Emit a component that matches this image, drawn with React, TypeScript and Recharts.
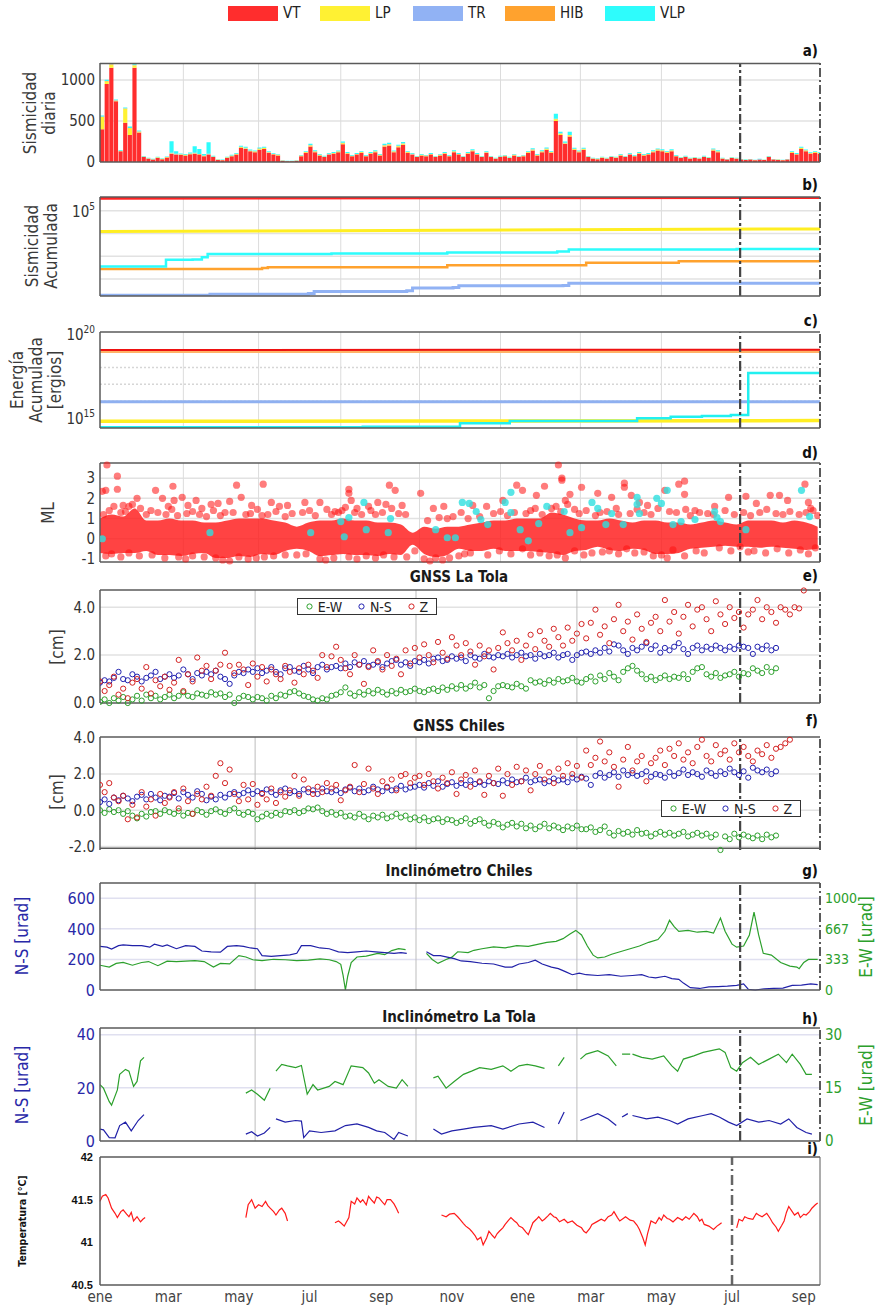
import React from 'react';
import {
  ComposedChart,
  XAxis,
  YAxis,
  Bar,
  Line,
  Area,
  Scatter,
  ReferenceLine,
  CartesianGrid,
} from 'recharts';

const W = 876;
const PL = 100;
const PR = 820;
const XMAX = 622;
const EVENT_DAY = 553;
const M = 10; // vertical chart margin, keeps edge tick labels inside the svg
const FONT = "'Liberation Sans Narrow', 'DejaVu Sans Condensed', 'Liberation Sans', Arial, sans-serif";

// ---- a) sismicidad diaria, 4-day bins ----
const VT = [
  400, 950, 1150, 740, 130, 480, 330, 1150, 360, 60,
  40, 30, 50, 35, 55, 100, 90, 85, 80, 95,
  100, 90, 70, 90, 60, 25, 20, 50, 70, 90,
  170, 160, 130, 120, 150, 160, 110, 90, 80, 15,
  10, 10, 15, 70, 110, 190, 120, 80, 60, 90,
  100, 120, 215, 100, 70, 90, 110, 70, 100, 120,
  80, 190, 200, 120, 180, 210, 110, 90, 60, 80,
  70, 90, 60, 80, 100, 70, 120, 90, 60, 100,
  130, 90, 60, 110, 60, 40, 60, 70, 50, 80,
  60, 70, 110, 140, 80, 120, 150, 110, 500, 330,
  220, 310, 150, 120, 150, 60, 40, 35, 50, 40,
  60, 50, 80, 60, 90, 70, 100, 80, 90, 120,
  140, 130, 110, 130, 70, 50, 60, 40, 50, 40,
  60, 50, 140, 120, 40, 30, 50, 40, 30, 25,
  30, 20, 30, 25, 60, 30, 25, 20, 30, 110,
  90, 160, 130, 100, 110, 100,
];
const LP = [
  150, 30, 40, 8, 6, 170, 80, 30, 10, 5,
  4, 3, 5, 4, 5, 8, 6, 6, 5, 7,
  8, 6, 5, 6, 5, 3, 2, 4, 5, 7,
  10, 9, 8, 7, 9, 10, 7, 6, 5, 2,
  1, 1, 2, 5, 8, 12, 8, 6, 5, 6,
  7, 8, 14, 7, 5, 6, 8, 5, 7, 8,
  6, 12, 14, 8, 12, 14, 8, 6, 4, 6,
  5, 6, 4, 6, 7, 5, 8, 6, 4, 7,
  9, 6, 4, 7, 4, 3, 4, 5, 4, 6,
  4, 5, 8, 10, 6, 8, 10, 8, 20, 15,
  10, 15, 9, 8, 9, 4, 3, 3, 4, 3,
  4, 4, 6, 4, 6, 5, 7, 6, 6, 8,
  9, 9, 8, 9, 5, 4, 4, 3, 4, 3,
  4, 4, 10, 8, 3, 2, 4, 3, 2, 2,
  2, 2, 2, 2, 4, 2, 2, 2, 2, 8,
  6, 10, 9, 7, 8, 7,
];
const TR = [
  1, 2, 1, 1, 0, 1, 1, 2, 1, 0,
  0, 0, 1, 0, 0, 1, 1, 0, 1, 0,
  1, 0, 1, 1, 0, 0, 0, 1, 0, 1,
  1, 1, 0, 1, 1, 0, 1, 0, 1, 0,
  0, 0, 0, 1, 0, 1, 1, 0, 0, 1,
  1, 0, 1, 1, 0, 0, 1, 0, 1, 1,
  0, 1, 1, 0, 1, 1, 0, 1, 0, 0,
  1, 0, 0, 1, 1, 0, 1, 0, 0, 1,
  1, 0, 0, 1, 0, 0, 1, 0, 0, 1,
  0, 0, 1, 1, 0, 1, 1, 0, 2, 1,
  1, 1, 1, 0, 1, 0, 0, 0, 1, 0,
  0, 1, 0, 0, 1, 0, 1, 0, 0, 1,
  1, 1, 0, 1, 0, 0, 1, 0, 0, 0,
  1, 0, 1, 1, 0, 0, 0, 1, 0, 0,
  0, 0, 1, 0, 0, 0, 1, 0, 0, 1,
  0, 1, 1, 0, 1, 0,
];
const HIB = [
  4, 5, 6, 4, 2, 4, 3, 5, 3, 2,
  2, 2, 3, 2, 2, 3, 3, 3, 2, 3,
  3, 3, 2, 3, 2, 1, 1, 2, 3, 3,
  4, 4, 3, 3, 4, 4, 3, 3, 2, 1,
  1, 1, 1, 2, 3, 4, 3, 3, 2, 3,
  3, 3, 4, 3, 2, 3, 3, 2, 3, 3,
  3, 4, 4, 3, 4, 4, 3, 3, 2, 3,
  2, 3, 2, 3, 3, 2, 3, 3, 2, 3,
  4, 3, 2, 3, 2, 2, 2, 3, 2, 3,
  2, 3, 3, 4, 3, 3, 4, 3, 5, 4,
  4, 4, 3, 3, 3, 2, 2, 2, 2, 2,
  2, 2, 3, 2, 3, 2, 3, 3, 3, 3,
  4, 3, 3, 3, 2, 2, 2, 2, 2, 2,
  2, 2, 3, 3, 2, 1, 2, 2, 1, 1,
  1, 1, 1, 1, 2, 1, 1, 1, 1, 3,
  3, 4, 3, 3, 3, 3,
];
const VLP = [
  12, 15, 10, 10, 8, 10, 20, 8, 10, 6,
  6, 5, 6, 5, 6, 140, 30, 10, 10, 12,
  80, 60, 20, 140, 10, 6, 6, 8, 10, 10,
  12, 12, 10, 10, 12, 12, 10, 8, 8, 4,
  4, 4, 4, 8, 10, 14, 10, 8, 8, 10,
  10, 10, 15, 10, 8, 10, 10, 8, 10, 10,
  8, 14, 15, 10, 12, 14, 10, 10, 8, 8,
  8, 10, 8, 8, 10, 8, 10, 10, 8, 10,
  12, 10, 8, 10, 8, 6, 8, 8, 8, 8,
  8, 8, 10, 12, 8, 10, 12, 10, 60, 20,
  15, 40, 12, 10, 12, 8, 6, 6, 8, 6,
  8, 6, 8, 8, 10, 8, 10, 8, 10, 10,
  12, 12, 10, 12, 8, 6, 8, 6, 6, 6,
  8, 6, 10, 10, 6, 5, 6, 6, 5, 5,
  5, 4, 5, 4, 8, 5, 4, 4, 5, 10,
  10, 12, 10, 10, 10, 10,
];

// ---- b) sismicidad acumulada (log) [day, count] ----
const CUM_VT = [[0, 355000], [300, 365000], [622, 380000]];
const CUM_LP = [[0, 12000], [200, 13000], [400, 14500], [622, 15800]];
const CUM_VLP = [[0, 350], [55, 350], [57, 700], [80, 720], [88, 900], [93, 1250], [200, 1320], [300, 1450], [395, 1600], [405, 1950], [550, 2050], [622, 2150]];
const CUM_HIB = [[0, 270], [140, 300], [145, 330], [300, 400], [420, 520], [500, 600], [622, 690]];
const CUM_TR = [[0, 19], [90, 19], [95, 21], [180, 23], [185, 28], [265, 30], [270, 40], [305, 42], [310, 50], [400, 52], [405, 65], [622, 76]];

// ---- c) energia acumulada (log exponents) ----
const EN_VT = [[0, 19.05], [622, 19.06]];
const EN_HIB = [[0, 18.97], [622, 18.97]];
const EN_TR = [[0, 15.97], [622, 15.97]];
const EN_LP = [[0, 14.8], [300, 14.82], [622, 14.84]];
const EN_VLP = [[0, 14.44], [227, 14.48], [311, 14.68], [354, 14.82], [464, 14.98], [493, 15.07], [520, 15.12], [545, 15.17], [560, 17.68], [622, 17.7]];

// ---- d) ML ----
const ML_LOW = [
  -0.7, -0.75, -0.7, -0.7, -0.6, -0.8, -0.8, -0.85, -0.75, -0.7,
  -0.95, -0.95, -0.85, -0.9, -0.75, -0.8, -0.6, -0.5, -0.6, -0.85,
  -0.8, -0.75, -0.8, -0.8, -0.85, -0.75, -0.8, -0.3, -0.75, -0.9,
  -0.8, -0.5, -0.6, -0.6, -0.5, -0.6, -0.6, -0.6, -0.65, -0.7,
  -0.8, -0.6, -0.55, -0.4, -0.55, -0.6, -0.5, -0.55, -0.75, -0.75,
  -0.7, -0.5, -0.45, -0.4, -0.35, -0.4, -0.4, -0.45, -0.4, -0.45,
  -0.5, -0.55, -0.5,
];
const ML_HIGH = [
  1.0, 1.2, 1.1, 1.5, 0.9, 0.9, 1.0, 0.9, 0.9, 0.8,
  0.8, 0.9, 1.0, 1.0, 1.0, 0.9, 0.8, 0.6, 0.8, 0.9,
  0.9, 1.0, 0.9, 0.9, 0.8, 0.8, 0.7, 0.3, 0.6, 0.5,
  0.6, 0.6, 0.7, 0.8, 0.9, 0.9, 1.0, 1.0, 1.0, 1.3,
  1.2, 1.0, 0.9, 0.9, 1.0, 0.9, 0.8, 0.9, 0.9, 0.8,
  0.8, 0.7, 0.8, 0.9, 0.8, 0.7, 0.9, 0.9, 0.9, 0.8,
  0.9, 0.8, 0.6,
];
const ML_RED = [
  [6, 3.65], [5, 2.4], [2, 2.35], [15, 3.1], [15, 2.45], [20, 1.65], [25, 1.6], [32, 2.0], [48, 2.4], [54, 2.0],
  [59, 1.6], [63, 2.6], [64, 1.9], [71, 2.05], [76, 1.65], [83, 1.9], [88, 1.5], [96, 1.7], [102, 1.75], [112, 1.85],
  [118, 2.65], [122, 2.05], [131, 1.65], [141, 2.7], [148, 1.8], [155, 1.6], [162, 1.65], [177, 1.8], [190, 1.8], [203, 1.35],
  [209, 1.4], [215, 2.45], [215, 2.25], [217, 1.9], [222, 1.5], [232, 1.6], [240, 1.8], [247, 1.7], [250, 2.65], [255, 2.4],
  [261, 1.65], [277, 2.25], [288, 1.5], [297, 1.6], [305, 1.1], [322, 1.65], [334, 1.6], [348, 1.9], [360, 2.65], [365, 2.4],
  [377, 2.15], [384, 2.6], [396, 3.65], [399, 3.0], [399, 2.9], [402, 1.9], [406, 2.2], [416, 2.55], [430, 2.25], [442, 2.05],
  [453, 2.75], [453, 2.55], [459, 2.15], [466, 1.8], [473, 1.65], [488, 2.4], [500, 2.7], [505, 2.85], [505, 2.2], [514, 1.4],
  [531, 1.6], [543, 2.05], [558, 2.1], [567, 1.75], [579, 2.15], [587, 2.15], [594, 1.9], [609, 2.7], [612, 1.8], [616, 1.4],
  [10, -0.75], [25, -0.7], [45, -0.8], [68, -0.9], [80, -0.85], [100, -0.95], [112, -1.1], [120, -0.9], [135, -0.95], [150, -0.85],
  [170, -0.8], [190, -1.0], [195, -1.05], [215, -0.9], [230, -0.85], [245, -0.8], [265, -0.9], [280, -1.0], [290, -0.95], [296, -1.05],
  [310, -0.85], [320, -0.7], [345, -0.6], [365, -0.5], [380, -0.7], [395, -0.8], [410, -0.6], [425, -0.7], [440, -0.6], [455, -0.5],
  [470, -0.65], [485, -0.8], [495, -0.55], [515, -0.6], [535, -0.45], [553, -0.4], [565, -0.6], [585, -0.5], [605, -0.55], [618, -0.45],
  [8, 1.4], [18, 1.3], [35, 1.5], [40, 1.2], [57, 1.2], [75, 1.25], [92, 1.1], [108, 1.3], [126, 1.2], [140, 1.15],
  [160, 1.1], [175, 1.3], [200, 1.2], [220, 1.3], [238, 1.2], [258, 1.25], [300, 1.0], [318, 1.0], [340, 1.25], [358, 1.3],
  [372, 1.4], [390, 1.5], [410, 1.45], [432, 1.3], [448, 1.2], [470, 1.3], [492, 1.35], [510, 1.15], [525, 1.25], [548, 1.2],
  [570, 1.3], [590, 1.2], [610, 1.3],
  [3, 1.2], [12, 1.6], [22, 1.35], [28, 1.7], [44, 1.4], [50, 1.3], [62, 1.45], [67, 1.15], [80, 1.35], [86, 1.2],
  [98, 1.4], [104, 1.15], [115, 1.3], [130, 1.25], [136, 1.45], [145, 1.2], [152, 1.35], [166, 1.25], [181, 1.4], [186, 1.15],
  [196, 1.45], [206, 1.3], [212, 1.55], [226, 1.2], [234, 1.4], [244, 1.3], [252, 1.5], [264, 1.2], [283, 0.9], [293, 1.05],
  [312, 1.3], [328, 1.1], [346, 1.35], [352, 1.15], [368, 1.25], [376, 1.5], [382, 1.2], [394, 1.6], [398, 1.35], [404, 1.7],
  [414, 1.25], [420, 1.4], [428, 1.15], [438, 1.35], [446, 1.5], [458, 1.25], [464, 1.45], [476, 1.2], [482, 1.5], [498, 1.3],
  [506, 1.45], [518, 1.3], [530, 1.2], [540, 1.4], [556, 1.3], [562, 1.15], [576, 1.45], [584, 1.25], [596, 1.35], [604, 1.2],
  [614, 1.5], [620, 1.15],
  [5, -0.85], [18, -0.9], [34, -0.85], [56, -0.95], [74, -1.0], [90, -0.9], [106, -1.05], [128, -1.0], [142, -0.9], [160, -0.8],
  [178, -0.75], [202, -0.95], [222, -1.0], [238, -0.95], [254, -0.9], [272, -0.6], [285, -1.1], [302, -0.95], [315, -0.75], [335, -0.8],
  [355, -0.75], [372, -0.8], [388, -0.85], [402, -0.95], [418, -0.8], [434, -0.65], [448, -0.75], [462, -0.7], [478, -0.85], [490, -0.95],
  [505, -0.85], [522, -0.7], [545, -0.6], [560, -0.65], [575, -0.7], [595, -0.7], [612, -0.75],
];
const ML_CYAN = [
  [2, 0.0], [95, 0.3], [182, 0.3], [208, 0.85], [211, 0.1], [215, 1.05], [228, 1.8], [230, 0.45], [249, 0.3], [251, 1.0],
  [290, 0.45], [300, 0.05], [307, 0.05], [313, 1.8], [319, 1.75], [325, 1.35], [329, 0.95], [335, 0.7], [350, 1.8], [355, 2.3],
  [355, 1.3], [363, 0.45], [370, -0.1], [379, 0.75], [386, 1.6], [401, 1.35], [406, 0.3], [416, 0.55], [425, 1.8], [430, 1.5],
  [437, 0.7], [442, 1.25], [452, 0.7], [464, 2.05], [464, 1.7], [466, 1.25], [481, 2.0], [485, 1.75], [490, 2.4], [495, 0.7],
  [502, 0.85], [514, 0.95], [531, 1.35], [533, 1.05], [536, 0.85], [558, 0.45], [606, 2.4], [613, 1.1],
];

// ---- e) GNSS La Tola, one point every 4 days from day 0 ----
const LT_NS = [
  0.85, 0.95, 0.9, 1.05, 1.3, 1.0, 0.95, 1.2, 1.1, 0.9, 1.05, 1.15, 1.3, 1.0, 1.1,
  1.2, 1.05, 1.15, 1.4, 1.2, 1.0, 1.25, 1.15, 1.3, 1.2, 1.35, 1.1, 1.0, 0.8, 1.15, 1.3, 1.25, 1.4,
  1.3, 1.45, 1.25, 1.35, 1.5, 1.3, 1.2, 1.45, 1.5, 1.35, 1.3, 1.55, 1.4, 1.25, 1.5, 1.6, 1.4, 1.5,
  1.55, 1.45, 1.65, 1.5, 1.7, 1.6, 1.75, 1.55, 1.6, 1.7, 1.5, 1.65, 1.75, 1.8, 1.6, 1.7, 1.55, 1.75,
  1.7, 1.8, 1.65, 1.85, 1.9, 1.75, 1.8, 1.95, 1.85, 1.9, 1.75, 2.0, 1.9, 1.85, 2.05, 1.95, 1.9, 2.0,
  1.95, 2.05, 1.9, 2.0, 2.1, 1.95, 2.0, 1.85, 2.05, 1.95, 2.0, 2.1, 1.9, 2.0, 2.05, 1.8, 2.0, 2.1,
  2.15, 2.05, 2.2, 2.1, 2.3, 2.15, 2.45, 2.4, 2.2, 2.05, 2.3, 2.2, 2.35, 2.5, 2.25, 2.4, 2.1, 2.3,
  2.2, 2.35, 2.5, 2.25, 2.05, 2.3, 2.4, 2.2, 2.35, 2.25, 2.4, 2.3, 2.2, 2.35, 2.25, 2.4, 2.35, 2.3,
  2.05, 2.35, 2.25, 2.4, 2.2, 2.3,
];
const LT_EW = [
  0.05, 0.15, 0.0, 0.2, 0.1, 0.25, 0.0, 0.15, 0.3, 0.1, 0.35, 0.2, 0.3, 0.15, 0.25,
  0.35, 0.2, 0.3, 0.45, 0.3, 0.25, 0.4, 0.35, 0.3, 0.45, 0.35, 0.4, 0.25, 0.35, 0.0, 0.2, 0.3, 0.25,
  0.15, 0.25, 0.2, 0.1, 0.3, 0.2, 0.35, 0.3, 0.45, 0.5, 0.4, 0.3, 0.25, 0.15, 0.1, 0.2, 0.15, 0.3,
  0.35, 0.45, 0.65, 0.4, 0.3, 0.45, 0.35, 0.5, 0.4, 0.55, 0.45, 0.35, 0.5, 0.4, 0.55, 0.45, 0.5, 0.6,
  0.5, 0.45, 0.55, 0.6, 0.5, 0.65, 0.55, 0.7, 0.6, 0.75, 0.6, 0.7, 0.85, 0.65, 0.75, 0.2, 0.5, 0.7,
  0.75, 0.7, 0.65, 0.8, 0.7, 0.6, 0.95, 0.85, 0.9, 0.8, 0.95, 0.85, 1.0, 0.9, 0.95, 1.05, 0.9, 0.85,
  1.0, 1.1, 0.9, 1.15, 1.0, 1.25, 1.1, 0.95, 1.3, 1.45, 1.55, 1.35, 1.2, 1.0, 1.1, 0.95, 1.05, 1.15,
  1.0, 1.1, 1.05, 1.2, 1.0, 1.3, 1.45, 1.5, 1.2, 1.1, 1.25, 1.05, 1.15, 1.2, 1.3, 1.1, 1.25, 1.2,
  1.45, 1.35, 1.25, 1.5, 1.3, 1.45,
];
const LT_Z = [
  0.9, 0.5, 0.75, 1.1, 0.35, 0.6, 0.2, 0.85, 1.0, 0.6, 1.5, 0.4, 0.95, 0.7, 1.1,
  0.55, 0.85, 1.8, 0.5, 1.2, 0.9, 1.9, 1.35, 1.55, 1.0, 1.35, 1.6, 2.1, 1.55, 1.25, 1.6, 1.4, 0.75,
  1.65, 1.1, 1.5, 0.9, 1.4, 1.2, 1.0, 1.55, 1.3, 0.85, 1.45, 1.2, 1.6, 1.35, 1.05, 2.0, 1.5, 1.95,
  2.35, 1.8, 1.45, 1.2, 2.0, 1.6, 0.8, 1.5, 2.2, 1.75, 1.4, 2.0, 1.55, 1.85, 1.2, 2.2, 1.65, 2.3,
  1.9, 2.45, 2.0, 1.7, 2.55, 2.1, 1.85, 2.75, 2.4, 2.0, 2.5, 2.15, 1.6, 2.4, 1.95, 2.2, 1.4, 2.3,
  2.95, 2.5, 2.2, 2.6, 1.8, 2.4, 2.85, 2.25, 3.0, 2.6, 2.35, 3.1, 2.75, 2.4, 3.15, 2.6, 2.9, 3.3,
  2.7, 3.35, 3.9, 2.85, 3.2, 2.5, 3.5, 4.1, 3.0, 3.4, 2.65, 3.7, 3.1, 2.55, 3.35, 3.6, 3.0, 4.3,
  3.4, 3.8, 2.9, 3.6, 4.1, 3.2, 3.9, 4.0, 3.5, 3.0, 4.25, 3.7, 3.3, 4.0, 3.55, 3.8, 3.15, 3.7,
  3.9, 4.3, 3.5, 4.0, 3.8, 3.35, 4.0, 3.9, 3.7, 4.0, 3.95, 4.7,
];

// ---- f) GNSS Chiles ----
const CH_NS = [
  0.45, 0.6, 0.35, 0.7, 0.55, 0.8, 0.65, 0.5, 0.75, 0.85, 0.6, 0.9, 0.7, 0.55, 0.8,
  0.75, 0.95, 0.65, 1.0, 0.85, 0.7, 1.05, 0.9, 0.55, 0.75, 0.6, 0.85, 0.7, 0.9, 1.0, 0.85, 0.95, 1.1,
  0.9, 1.05, 0.95, 1.15, 1.0, 0.85, 1.1, 1.2, 0.95, 1.05, 0.9, 1.15, 1.0, 1.1, 0.9, 1.2, 1.05, 1.0,
  1.1, 0.95, 1.15, 1.25, 1.05, 1.2, 1.0, 1.1, 1.3, 1.15, 1.05, 1.25, 1.1, 1.2, 1.35, 1.15, 1.25, 1.3,
  1.4, 1.25, 1.5, 1.35, 1.6, 1.3, 1.45, 1.55, 1.35, 1.5, 1.4, 1.65, 1.45, 1.55, 1.4, 1.6, 1.5, 1.45,
  1.65, 1.5, 1.7, 1.55, 1.6, 1.8, 1.55, 1.65, 1.7, 1.5, 1.6, 1.75, 1.65, 1.7, 1.55, 1.8, 1.7, 1.85,
  1.75, 1.4, 1.9, 2.05, 1.8, 1.95, 2.1, 1.85, 2.2, 1.95, 2.05, 1.9, 2.0, 2.15, 1.85, 2.0, 1.95, 1.8,
  2.1, 1.9, 2.05, 2.25, 1.95, 2.1, 2.0, 1.85, 2.2, 2.05, 1.9, 2.15, 2.0, 2.3, 2.1, 1.95, 2.15, 1.8,
  2.35, 2.2, 2.1, 2.25, 2.0, 2.15,
];
const CH_EW = [
  0.0, -0.15, 0.05, -0.1, 0.0, -0.2, -0.05, -0.3, -0.45, -0.2, -0.35, -0.1, -0.05, -0.2, 0.0,
  -0.1, -0.2, -0.05, -0.3, -0.15, -0.2, 0.0, -0.1, -0.25, -0.05, 0.05, -0.1, -0.2, 0.0, 0.1, -0.15, -0.25, -0.1,
  -0.2, -0.5, -0.35, -0.2, -0.3, -0.15, -0.25, -0.05, -0.1, 0.0, -0.15, -0.05, 0.1, 0.05, 0.15, -0.05, -0.2, -0.1,
  -0.25, -0.15, -0.35, -0.3, -0.4, -0.2, -0.35, -0.5, -0.3, -0.4, -0.25, -0.45, -0.35, -0.2, -0.4, -0.3, -0.5, -0.4,
  -0.55, -0.4, -0.6, -0.5, -0.45, -0.65, -0.5, -0.55, -0.7, -0.6, -0.45, -0.75, -0.6, -0.5, -0.7, -0.85, -0.65, -0.75,
  -0.95, -0.8, -0.7, -0.9, -0.75, -1.0, -0.85, -1.05, -0.9, -0.75, -1.0, -0.85, -0.95, -1.1, -0.9, -1.0, -0.85, -1.05,
  -1.05, -0.95, -1.2, -1.1, -0.9, -1.25, -1.4, -1.15, -1.3, -1.2, -1.35, -1.1, -1.3, -1.25, -1.45, -1.3, -1.2, -1.35,
  -1.25, -1.4, -1.3, -1.2, -1.45, -1.35, -1.25, -1.4, -1.3, -1.5, -1.35, -2.2, -1.45, -1.6, -1.3, -1.5, -1.35, -1.45,
  -1.55, -1.4, -1.6, -1.35, -1.5, -1.4,
];
const CH_Z = [
  1.4, 1.0, 1.5, 0.7, 0.5, 0.8, -0.5, 0.3, -0.4, 1.0, 0.2, 0.6, -0.3, 0.9, 0.4,
  0.7, 1.0, 0.1, 1.2, 0.5, -0.2, 0.9, 0.6, 1.3, 0.8, 1.9, 2.6, 1.5, 2.25, 0.9, 0.5, 1.4, 0.6,
  1.45, 0.3, 0.9, 0.6, 1.2, 0.4, 1.0, 0.75, 1.1, 1.9, 0.8, 1.7, 1.2, 0.9, 1.3, 1.0, 1.5, 1.2,
  1.4, 0.55, 1.1, 1.3, 2.5, 1.0, 1.45, 2.3, 1.2, 0.9, 1.6, 1.3, 1.7, 1.1, 1.9, 2.0, 1.5, 1.8,
  1.9, 1.4, 2.0, 1.6, 1.2, 1.8, 1.5, 2.1, 0.9, 1.7, 1.95, 1.3, 2.2, 1.6, 0.85, 1.9, 1.5, 2.3,
  0.8, 2.0, 1.4, 2.4, 1.6, 2.2, 1.1, 2.0, 2.45, 1.7, 2.1, 1.5, 2.3, 1.9, 2.6, 2.0, 2.45, 1.8,
  3.3, 2.5, 2.9, 3.8, 2.7, 3.2, 2.4, 1.3, 2.8, 3.5, 2.2, 2.7, 3.0, 1.6, 2.6, 2.9, 3.3, 2.5,
  3.4, 3.0, 3.7, 2.8, 3.2, 2.6, 3.5, 3.9, 3.0, 2.7, 3.6, 3.1, 3.3, 2.8, 3.7, 3.2, 3.5, 3.0,
  2.7, 3.3, 3.1, 3.6, 2.9, 3.4, 3.5, 3.7, 3.9,
];

// ---- g) inclinometro Chiles [day, urad] ----
const INC_CH_NS = [
  [0, 285], [6, 280], [10, 268], [16, 290], [20, 295], [28, 290], [36, 290], [43, 280], [47, 300], [54, 285],
  [58, 295], [66, 270], [74, 290], [82, 285], [88, 255], [96, 250], [104, 248], [110, 285], [118, 290], [124, 285],
  [130, 275], [136, 270], [140, 225], [148, 220], [156, 225], [164, 230], [170, 240], [174, 290], [182, 290], [190, 275],
  [198, 270], [206, 250], [214, 245], [222, 250], [230, 255], [238, 250], [246, 245], [254, 240], [260, 245], [265, 240],
  [266, null],
  [282, 250], [288, 225], [294, 225], [300, 215], [306, 205], [312, 190], [320, 185], [330, 175], [340, 170], [350, 150],
  [356, 150], [362, 170], [370, 180], [376, 195], [382, 170], [390, 150], [396, 140], [402, 120], [408, 100], [414, 110],
  [420, 100], [430, 95], [440, 100], [450, 90], [460, 95], [468, 100], [474, 85], [480, 80], [488, 90], [494, 75],
  [500, 70], [504, 45], [510, 15], [518, 10], [526, 20], [534, 22], [542, 25], [550, 30], [556, 40], [560, 5],
  [566, 0], [574, 8], [582, 10], [590, 12], [598, 30], [606, 32], [614, 40], [620, 35],
];
const INC_CH_EW = [
  [0, 270], [8, 250], [14, 290], [20, 300], [28, 270], [36, 300], [42, 310], [50, 265], [58, 315], [66, 310],
  [74, 315], [82, 320], [90, 310], [98, 250], [104, 290], [112, 285], [120, 375], [126, 360], [132, 330], [140, 320],
  [150, 335], [160, 330], [170, 320], [180, 325], [190, 340], [198, 330], [204, 310], [208, 280], [210, 160], [212, 0],
  [214, 150], [217, 300], [222, 360], [230, 370], [240, 400], [246, 385], [252, 430], [258, 450], [264, 440],
  [266, null],
  [282, 400], [287, 333], [292, 290], [299, 333], [304, 358], [309, 417], [318, 408], [323, 433], [330, 450], [340, 470],
  [350, 460], [360, 483], [370, 475], [379, 500], [386, 520], [394, 530], [400, 560], [406, 610], [411, 650], [416, 600],
  [421, 480], [426, 380], [430, 350], [436, 360], [442, 390], [450, 420], [458, 450], [466, 480], [474, 520], [482, 550],
  [488, 640], [492, 760], [496, 690], [500, 640], [508, 650], [516, 630], [524, 640], [530, 620], [536, 785], [540, 640],
  [546, 500], [550, 467], [556, 480], [561, 600], [565, 850], [569, 600], [573, 400], [580, 380], [588, 300], [596, 260],
  [602, 250], [604, 233], [608, 300], [612, 333], [620, 333],
];

// ---- h) inclinometro La Tola ----
const INC_LT_NS = [
  [0, 4.5], [3, 4.2], [8, 1.3], [13, 1.2], [17, 5.8], [22, 7.1], [27, 3.8], [33, 7.7], [38, 9.9], [40, null],
  [126, 2.6], [131, 3.5], [136, 1.9], [142, 3.0], [147, 5.1], [149, null],
  [152, 8.3], [160, 7.1], [169, 7.7], [174, 7.5], [176, 1.3], [181, 3.8], [191, 3.2], [203, 3.8], [212, 5.8], [222, 6.4],
  [232, 5.1], [239, 3.8], [246, 3.2], [254, 0.6], [258, 3.2], [266, 1.9], [268, null],
  [288, 4.5], [295, 2.6], [304, 3.8], [314, 4.5], [323, 5.1], [338, 5.8], [348, 4.5], [362, 6.4], [374, 7.1], [384, 5.1], [388, null],
  [396, 6.4], [401, 10.9], [405, null],
  [415, 7.7], [430, 10.3], [439, 8.3], [446, 5.8], [448, null],
  [451, 9.0], [456, 10.3], [459, null],
  [460, 9.6], [472, 8.3], [482, 9.0], [492, 7.7], [499, 6.4], [508, 8.3], [521, 9.6], [528, 10.3], [535, 9.0], [543, 7.1],
  [550, 5.8], [559, 8.3], [569, 7.1], [578, 7.7], [588, 6.4], [595, 8.3], [602, 5.1], [610, 3.2], [615, 2.6],
];
const INC_LT_EW = [
  [0, 15.9], [3, 14.9], [8, 11.1], [10, 10.1], [15, 14.4], [17, 18.8], [22, 20.2], [25, 19.7], [29, 15.4], [32, 16.8],
  [35, 22.6], [38, 23.6], [40, null],
  [126, 13.5], [131, 14.4], [136, 13.2], [142, 11.5], [147, 14.9], [149, null],
  [152, 19.7], [157, 21.6], [162, 21.2], [169, 20.7], [174, 21.3], [179, 13.2], [184, 15.9], [188, 14.4], [198, 15.4], [203, 16.8],
  [210, 15.9], [217, 21.2], [227, 20.7], [232, 19.2], [237, 16.3], [241, 17.3], [249, 15.4], [256, 14.9], [261, 17.3], [266, 15.4],
  [268, null],
  [288, 17.8], [292, 18.3], [299, 14.9], [306, 16.8], [314, 18.8], [321, 19.7], [328, 20.7], [338, 20.2], [348, 21.2], [355, 19.7],
  [362, 21.2], [369, 21.6], [376, 21.2], [384, 20.5], [388, null],
  [396, 21.2], [401, 23.6], [405, null],
  [415, 23.1], [420, 24.5], [430, 25.5], [439, 24.0], [446, 21.2], [448, null],
  [451, 24.5], [458, 24.5], [459, null],
  [460, 24.5], [468, 23.6], [477, 23.1], [487, 24.0], [494, 21.2], [499, 19.7], [504, 23.1], [513, 24.0], [521, 25.0], [528, 25.5],
  [535, 26.0], [540, 25.0], [545, 20.7], [550, 19.7], [555, 22.1], [562, 23.6], [569, 21.6], [578, 23.1], [586, 24.5], [593, 22.1],
  [598, 24.5], [605, 21.6], [610, 18.8], [615, 18.8],
];

// ---- i) temperatura ----
const TEMP = [
  [0, 41.48], [2, 41.54], [5, 41.56], [7, 41.52], [10, 41.4], [13, 41.34], [15, 41.29], [18, 41.36], [20, 41.38], [23, 41.33],
  [25, 41.3], [27, 41.35], [29, 41.25], [32, 41.3], [35, 41.24], [37, 41.27], [39, 41.29], [40, null],
  [126, 41.29], [128, 41.44], [131, 41.5], [134, 41.4], [137, 41.44], [140, 41.42], [143, 41.48], [145, 41.43], [147, 41.4], [150, 41.36],
  [152, 41.32], [155, 41.38], [157, 41.4], [160, 41.34], [162, 41.25], [163, null],
  [203, 41.23], [206, 41.25], [208, 41.23], [211, 41.19], [215, 41.29], [217, 41.48], [220, 41.45], [222, 41.52], [225, 41.47], [227, 41.5],
  [230, 41.44], [232, 41.54], [235, 41.49], [237, 41.46], [239, 41.53], [241, 41.52], [244, 41.47], [246, 41.44], [248, 41.5], [251, 41.5],
  [254, 41.45], [256, 41.4], [258, 41.34], [259, null],
  [295, 41.32], [299, 41.3], [302, 41.33], [306, 41.34], [309, 41.3], [311, 41.27], [314, 41.22], [316, 41.19], [319, 41.16], [321, 41.13],
  [324, 41.08], [326, 41.03], [329, 41.06], [331, 40.97], [334, 41.05], [336, 41.13], [339, 41.08], [341, 41.05], [343, 41.1], [345, 41.13],
  [348, 41.17], [350, 41.21], [353, 41.26], [355, 41.29], [358, 41.25], [360, 41.23], [362, 41.19], [365, 41.17], [368, 41.12], [370, 41.09],
  [372, 41.16], [374, 41.23], [377, 41.27], [379, 41.3], [382, 41.25], [384, 41.27], [387, 41.31], [389, 41.34], [392, 41.3], [394, 41.29],
  [397, 41.24], [401, 41.27], [404, 41.23], [408, 41.25], [412, 41.2], [416, 41.17], [418, 41.13], [420, 41.11], [423, 41.16], [425, 41.21],
  [429, 41.24], [433, 41.27], [436, 41.25], [439, 41.3], [442, 41.32], [444, 41.36], [447, 41.29], [449, 41.25], [452, 41.28], [454, 41.3],
  [458, 41.26], [461, 41.25], [464, 41.2], [466, 41.15], [469, 41.05], [471, 40.97], [473, 41.1], [476, 41.25], [480, 41.22], [483, 41.29],
  [485, 41.26], [487, 41.32], [490, 41.28], [492, 41.27], [495, 41.24], [499, 41.29], [503, 41.26], [506, 41.3], [509, 41.27], [513, 41.34],
  [516, 41.3], [518, 41.25], [520, 41.27], [522, 41.21], [526, 41.19], [530, 41.15], [533, 41.19], [535, 41.21], [537, 41.23], [538, null],
  [550, 41.17], [552, 41.27], [555, 41.25], [557, 41.3], [560, 41.28], [564, 41.27], [567, 41.34], [569, 41.32], [572, 41.3], [576, 41.34],
  [579, 41.28], [581, 41.23], [584, 41.18], [586, 41.13], [589, 41.2], [591, 41.25], [593, 41.35], [595, 41.42], [598, 41.36], [600, 41.32],
  [603, 41.35], [605, 41.29], [608, 41.33], [610, 41.32], [613, 41.36], [615, 41.4], [618, 41.44], [620, 41.46],
];

const MONTH_TICKS = [0, 59, 120, 181, 243, 304, 365, 424, 485, 546, 608];
const MONTH_LABELS = ['ene', 'mar', 'may', 'jul', 'sep', 'nov', 'ene', 'mar', 'may', 'jul', 'sep'];
const GRID_TOP = [72, 137, 208, 276, 346, 415, 485];
const GRID_MID = [134, 273, 412];

const COLORS = { VT: '#ff2d2d', LP: '#fff133', TR: '#91b2f4', HIB: '#ffa22e', VLP: '#2efcfc' };

// tables
const barData = VT.map((v, i) => ({ d: i * 4 + 2, vt: v, lp: LP[i], tr: TR[i], hib: HIB[i], vlp: VLP[i] }));
const pairs = (arr: (number | null)[][]) => arr.map(([d, v]) => ({ d, v }));
const expPairs = (arr: number[][]) => arr.map(([d, e]) => ({ d, v: Math.pow(10, e) }));
const every4 = (arr: number[]) => arr.map((v, i) => ({ d: i * 4, v }));
const bandData = ML_LOW.map((lo, i) => ({ d: i * 10, band: [lo, ML_HIGH[i]] }));

const tickStyle = { fill: '#333', fontSize: 15, fontFamily: FONT };

const PowTick = ({ x, y, payload }: any) => {
  const e = Math.round(Math.log10(payload.value));
  return (
    <text x={x} y={y} textAnchor="end" dy={6} fill="#333" fontSize={15} fontFamily={FONT}>
      10<tspan dy={-7} fontSize={10}>{e}</tspan>
    </text>
  );
};

// grid drawn beneath the data
const hGrid = (vals: number[], color = '#e2e2e2', dash?: string) => (
  <CartesianGrid key="gh" yAxisId="l" vertical={false} horizontalValues={vals} stroke={color} strokeWidth={1.5} strokeDasharray={dash} />
);
const vGrid = (days: number[], color = '#dcdcdc') => (
  <CartesianGrid key="gv" yAxisId="l" horizontal={false} verticalValues={days} stroke={color} strokeWidth={1} />
);
const frame = (lo: number, hi: number, dashedRight = true) => [
  <ReferenceLine key="ft" yAxisId="l" y={hi} stroke="#5a5a5a" strokeWidth={1.5} ifOverflow="visible" />,
  <ReferenceLine key="fb" yAxisId="l" y={lo} stroke="#5a5a5a" strokeWidth={1.5} ifOverflow="visible" />,
  <ReferenceLine key="fl" yAxisId="l" x={0} stroke="#5a5a5a" strokeWidth={1.5} ifOverflow="visible" />,
  <ReferenceLine
    key="fr"
    yAxisId="l"
    x={XMAX}
    stroke="#5a5a5a"
    strokeWidth={dashedRight ? 2 : 1}
    strokeDasharray={dashedRight ? '9 3 2 3' : undefined}
    ifOverflow="visible"
  />,
];
const eventLine = (
  <ReferenceLine key="ev" yAxisId="l" x={EVENT_DAY} stroke="#444" strokeWidth={2.2} strokeDasharray="10 3 3 3" />
);

const ring = (color: string) => (p: any) => (
  <circle cx={p.cx} cy={p.cy} r={2.6} fill="none" stroke={color} strokeWidth={1} />
);
const blob = (color: string, op: number) => (p: any) => (
  <circle cx={p.cx} cy={p.cy} r={3.6} fill={color} fillOpacity={op} />
);

const Abs = ({ x, y, children, style }: any) => (
  <div style={{ position: 'absolute', left: x, top: y, whiteSpace: 'nowrap', fontFamily: FONT, ...style }}>{children}</div>
);

const VLabel = ({ x, y, lines, color = '#3a3a3a', size = 17, weight = 400 }: any) => (
  <div
    style={{
      position: 'absolute',
      left: x,
      top: y,
      transform: 'translate(-50%, -50%) rotate(-90deg)',
      textAlign: 'center',
      whiteSpace: 'nowrap',
      fontSize: size,
      lineHeight: `${size + 2}px`,
      color,
      fontFamily: FONT,
      fontWeight: weight,
    }}
  >
    {lines.map((l: string) => (
      <div key={l}>{l}</div>
    ))}
  </div>
);

const Letter = ({ y, t }: any) => (
  <Abs x={760} y={y} style={{ width: 58, textAlign: 'right', fontWeight: 700, fontSize: 15, color: '#111' }}>
    {t}
  </Abs>
);

const Title = ({ y, t }: any) => (
  <Abs x={259} y={y} style={{ width: 400, textAlign: 'center', fontWeight: 700, fontSize: 15, color: '#1a1a1a' }}>
    {t}
  </Abs>
);

const GnssLegend = ({ x, y }: any) => (
  <Abs
    x={x}
    y={y}
    style={{
      width: 140,
      height: 17,
      border: '1px solid #333',
      background: '#fff',
      fontSize: 14,
      color: '#222',
      display: 'flex',
      alignItems: 'center',
      justifyContent: 'space-around',
      boxSizing: 'border-box',
    }}
  >
    {[
      ['E-W', '#2ca02c'],
      ['N-S', '#2121b0'],
      ['Z', '#d42222'],
    ].map(([t, c]) => (
      <span key={t} style={{ display: 'flex', alignItems: 'center', gap: 5 }}>
        <svg width={7} height={7}>
          <circle cx={3.5} cy={3.5} r={2.6} fill="none" stroke={c} strokeWidth={1} />
        </svg>
        {t}
      </span>
    ))}
  </Abs>
);

// plot area from plotTop to plotBottom; the chart box extends M px above and below
const Panel = ({ plotTop, plotH, children, right = W - PR, bottomExtra = 0 }: any) => (
  <div style={{ position: 'absolute', left: 0, top: plotTop - M }}>
    {children({ width: W, height: plotH + 2 * M + bottomExtra, margin: { top: M, right, bottom: M, left: 0 } })}
  </div>
);

const xHidden = <XAxis type="number" dataKey="d" domain={[0, XMAX]} hide allowDataOverflow />;
const yCommon = { tickSize: 3, tickMargin: 2, axisLine: false, tickLine: false, interval: 0 as const };

export default function App() {
  const legendItems: [string, string, number][] = [
    ['VT', COLORS.VT, 228],
    ['LP', COLORS.LP, 320],
    ['TR', COLORS.TR, 413],
    ['HIB', COLORS.HIB, 505],
    ['VLP', COLORS.VLP, 605],
  ];
  const LOGB: [number, number] = [Math.pow(10, 1.25), Math.pow(10, 5.6)];
  const LOGC: [number, number] = [Math.pow(10, 14.4), Math.pow(10, 20.12)];

  return (
    <div style={{ position: 'absolute', left: 0, top: 0, width: W, height: 1306, background: '#fff', overflow: 'hidden' }}>
      {legendItems.map(([t, c, x]) => (
        <React.Fragment key={t}>
          <div style={{ position: 'absolute', left: x, top: 6, width: 50, height: 15, background: c }} />
          <Abs x={x + 55} y={4} style={{ fontSize: 15, color: '#222' }}>
            {t}
          </Abs>
        </React.Fragment>
      ))}

      {/* a) */}
      <Letter y={42} t="a)" />
      <VLabel x={40} y={113} lines={['Sismicidad', 'diaria']} />
      <Panel plotTop={63} plotH={99}>
        {(p: any) => (
          <ComposedChart {...p} data={barData} barCategoryGap={0} barGap={0}>
            {xHidden}
            <YAxis yAxisId="l" width={PL} domain={[0, 1200]} ticks={[0, 500, 1000]} tick={tickStyle} {...yCommon} />
            {hGrid([500, 1000])}
            {vGrid(GRID_TOP)}
            <Bar yAxisId="l" dataKey="vt" stackId="s" fill={COLORS.VT} barSize={4.7} isAnimationActive={false} />
            <Bar yAxisId="l" dataKey="lp" stackId="s" fill={COLORS.LP} barSize={4.7} isAnimationActive={false} />
            <Bar yAxisId="l" dataKey="tr" stackId="s" fill={COLORS.TR} barSize={4.7} isAnimationActive={false} />
            <Bar yAxisId="l" dataKey="hib" stackId="s" fill={COLORS.HIB} barSize={4.7} isAnimationActive={false} />
            <Bar yAxisId="l" dataKey="vlp" stackId="s" fill={COLORS.VLP} barSize={4.7} isAnimationActive={false} />
            {eventLine}
            {frame(0, 1200)}
          </ComposedChart>
        )}
      </Panel>

      {/* b) */}
      <Letter y={176} t="b)" />
      <VLabel x={42} y={246} lines={['Sismicidad', 'Acumulada']} />
      <Panel plotTop={197} plotH={99}>
        {(p: any) => (
          <ComposedChart {...p}>
            {xHidden}
            <YAxis yAxisId="l" width={PL} scale="log" domain={LOGB} allowDataOverflow ticks={[1e5]} tick={<PowTick />} {...yCommon} />
            {hGrid([100, 1000, 10000, 100000])}
            {vGrid(GRID_TOP)}
            <Line yAxisId="l" data={pairs(CUM_TR)} dataKey="v" type="stepAfter" stroke={COLORS.TR} strokeWidth={3} dot={false} isAnimationActive={false} />
            <Line yAxisId="l" data={pairs(CUM_HIB)} dataKey="v" type="stepAfter" stroke={COLORS.HIB} strokeWidth={2.5} dot={false} isAnimationActive={false} />
            <Line yAxisId="l" data={pairs(CUM_VLP)} dataKey="v" type="stepAfter" stroke={COLORS.VLP} strokeWidth={2.5} dot={false} isAnimationActive={false} />
            <Line yAxisId="l" data={pairs(CUM_LP)} dataKey="v" type="linear" stroke="#ffee22" strokeWidth={3} dot={false} isAnimationActive={false} />
            <Line yAxisId="l" data={pairs(CUM_VT)} dataKey="v" type="linear" stroke="#ff2222" strokeWidth={3} dot={false} isAnimationActive={false} />
            {eventLine}
            {frame(LOGB[0], LOGB[1])}
          </ComposedChart>
        )}
      </Panel>

      {/* c) */}
      <Letter y={312} t="c)" />
      <VLabel x={36} y={380} lines={['Energía', 'Acumulada', '[ergios]']} />
      <Panel plotTop={332} plotH={96}>
        {(p: any) => (
          <ComposedChart {...p}>
            {xHidden}
            <YAxis yAxisId="l" width={PL} scale="log" domain={LOGC} allowDataOverflow ticks={[1e15, 1e20]} tick={<PowTick />} {...yCommon} />
            {hGrid([1e16, 1e17, 1e18, 1e19], '#d6d6d6', '2 2')}
            {vGrid(GRID_TOP)}
            <Line yAxisId="l" data={expPairs(EN_HIB)} dataKey="v" stroke="#ffb266" strokeWidth={3.5} dot={false} isAnimationActive={false} />
            <Line yAxisId="l" data={expPairs(EN_VT)} dataKey="v" stroke="#ee1111" strokeWidth={2} dot={false} isAnimationActive={false} />
            <Line yAxisId="l" data={expPairs(EN_TR)} dataKey="v" stroke="#8fb0f0" strokeWidth={3} dot={false} isAnimationActive={false} />
            <Line yAxisId="l" data={expPairs(EN_LP)} dataKey="v" stroke="#ffee22" strokeWidth={3.5} dot={false} isAnimationActive={false} />
            <Line yAxisId="l" data={expPairs(EN_VLP)} dataKey="v" type="stepAfter" stroke="#22f0f0" strokeWidth={2.5} dot={false} isAnimationActive={false} />
            {eventLine}
            {frame(LOGC[0], LOGC[1])}
          </ComposedChart>
        )}
      </Panel>

      {/* d) */}
      <Letter y={444} t="d)" />
      <VLabel x={48} y={513} lines={['ML']} />
      <Panel plotTop={463} plotH={99}>
        {(p: any) => (
          <ComposedChart {...p}>
            {xHidden}
            <YAxis yAxisId="l" width={PL} domain={[-1.15, 3.75]} ticks={[-1, 0, 1, 2, 3]} tick={tickStyle} {...yCommon} />
            {hGrid([0, 1, 2, 3])}
            {vGrid(GRID_TOP)}
            <Area yAxisId="l" data={bandData} dataKey="band" type="monotone" stroke="none" fill="#ff1a1a" fillOpacity={0.82} isAnimationActive={false} />
            <Scatter yAxisId="l" data={pairs(ML_RED)} dataKey="v" shape={blob('#ff1010', 0.55)} isAnimationActive={false} />
            <Scatter yAxisId="l" data={pairs(ML_CYAN)} dataKey="v" shape={blob('#2ee0e0', 0.8)} isAnimationActive={false} />
            {eventLine}
            {frame(-1.15, 3.75)}
          </ComposedChart>
        )}
      </Panel>

      {/* e) */}
      <Title y={568} t="GNSS La Tola" />
      <Letter y={567} t="e)" />
      <VLabel x={57} y={647} lines={['[cm]']} />
      <Panel plotTop={590} plotH={113}>
        {(p: any) => (
          <ComposedChart {...p}>
            {xHidden}
            <YAxis yAxisId="l" width={PL} domain={[0, 4.72]} ticks={[0, 2, 4]} tickFormatter={(v: number) => v.toFixed(1)} tick={tickStyle} {...yCommon} />
            {hGrid([2, 4])}
            {vGrid(GRID_MID, '#bdbdbd')}
            <Scatter yAxisId="l" data={every4(LT_EW)} dataKey="v" shape={ring('#2ca02c')} isAnimationActive={false} />
            <Scatter yAxisId="l" data={every4(LT_NS)} dataKey="v" shape={ring('#2121b0')} isAnimationActive={false} />
            <Scatter yAxisId="l" data={every4(LT_Z)} dataKey="v" shape={ring('#d42222')} isAnimationActive={false} />
            {eventLine}
            {frame(0, 4.72)}
          </ComposedChart>
        )}
      </Panel>
      <GnssLegend x={297} y={598} />

      {/* f) */}
      <Title y={717} t="GNSS Chiles" />
      <Letter y={712} t="f)" />
      <VLabel x={57} y={792} lines={['[cm]']} />
      <Panel plotTop={737} plotH={113}>
        {(p: any) => (
          <ComposedChart {...p}>
            {xHidden}
            <YAxis yAxisId="l" width={PL} domain={[-2.1, 4.05]} ticks={[-2, 0, 2, 4]} tickFormatter={(v: number) => v.toFixed(1)} tick={tickStyle} {...yCommon} />
            {hGrid([-2, 0, 2])}
            {vGrid(GRID_MID, '#bdbdbd')}
            <Scatter yAxisId="l" data={every4(CH_EW)} dataKey="v" shape={ring('#2ca02c')} isAnimationActive={false} />
            <Scatter yAxisId="l" data={every4(CH_NS)} dataKey="v" shape={ring('#2121b0')} isAnimationActive={false} />
            <Scatter yAxisId="l" data={every4(CH_Z)} dataKey="v" shape={ring('#d42222')} isAnimationActive={false} />
            {eventLine}
            {frame(-2.1, 4.05)}
          </ComposedChart>
        )}
      </Panel>
      <GnssLegend x={661} y={800} />

      {/* g) */}
      <Title y={862} t="Inclinómetro Chiles" />
      <Letter y={862} t="g)" />
      <VLabel x={22} y={936} lines={['N-S [urad]']} color="#2828a8" />
      <VLabel x={866} y={937} lines={['E-W [urad]']} color="#2ca02c" />
      <Panel plotTop={883} plotH={107} right={0}>
        {(p: any) => (
          <ComposedChart {...p}>
            {xHidden}
            <YAxis yAxisId="l" width={PL} domain={[0, 700]} ticks={[0, 200, 400, 600]} tick={{ ...tickStyle, fill: '#2828a8', fontSize: 16 }} {...yCommon} />
            <YAxis yAxisId="r" orientation="right" width={W - PR} domain={[0, 1166.67]} ticks={[0, 333.33, 666.67, 1000]} tickFormatter={(v: number) => String(Math.round(v))} tick={{ ...tickStyle, fill: '#2ca02c', fontSize: 14 }} {...yCommon} />
            {hGrid([200, 400, 600], '#e0e0f0')}
            {vGrid(GRID_MID, '#bdbdbd')}
            <Line yAxisId="r" data={pairs(INC_CH_EW)} dataKey="v" stroke="#2ca02c" strokeWidth={1.2} dot={false} connectNulls={false} isAnimationActive={false} />
            <Line yAxisId="l" data={pairs(INC_CH_NS)} dataKey="v" stroke="#2121a8" strokeWidth={1.2} dot={false} connectNulls={false} isAnimationActive={false} />
            {eventLine}
            {frame(0, 700)}
          </ComposedChart>
        )}
      </Panel>

      {/* h) */}
      <Title y={1008} t="Inclinómetro La Tola" />
      <Letter y={1010} t="h)" />
      <VLabel x={22} y={1085} lines={['N-S [urad]']} color="#2828a8" />
      <VLabel x={866} y={1085} lines={['E-W [urad]']} color="#2ca02c" />
      <Panel plotTop={1028} plotH={113} right={0}>
        {(p: any) => (
          <ComposedChart {...p}>
            {xHidden}
            <YAxis yAxisId="l" width={PL} domain={[0, 42.5]} ticks={[0, 20, 40]} tick={{ ...tickStyle, fill: '#2828a8', fontSize: 16 }} {...yCommon} />
            <YAxis yAxisId="r" orientation="right" width={W - PR} domain={[0, 31.875]} ticks={[0, 15, 30]} tick={{ ...tickStyle, fill: '#2ca02c', fontSize: 15 }} {...yCommon} />
            {hGrid([20, 40], '#e0e0f0')}
            {vGrid(GRID_MID, '#bdbdbd')}
            <Line yAxisId="r" data={pairs(INC_LT_EW)} dataKey="v" stroke="#2ca02c" strokeWidth={1.2} dot={false} connectNulls={false} isAnimationActive={false} />
            <Line yAxisId="l" data={pairs(INC_LT_NS)} dataKey="v" stroke="#2121a8" strokeWidth={1.2} dot={false} connectNulls={false} isAnimationActive={false} />
            {eventLine}
            {frame(0, 42.5)}
          </ComposedChart>
        )}
      </Panel>

      {/* i) */}
      <Letter y={1140} t="i)" />
      <VLabel x={22} y={1221} lines={['Temperatura [°C]']} size={10.5} weight={700} color="#111" />
      <div style={{ position: 'absolute', left: 0, top: 1157 - M }}>
        <ComposedChart width={W} height={128 + M + 23} margin={{ top: M, right: W - PR, bottom: 0, left: 0 }}>
          <XAxis
            type="number"
            dataKey="d"
            domain={[0, XMAX]}
            ticks={MONTH_TICKS}
            tickFormatter={(v: number) => MONTH_LABELS[MONTH_TICKS.indexOf(v)]}
            tick={{ fill: '#444', fontSize: 15, fontFamily: FONT }}
            tickSize={4}
            tickMargin={2}
            tickLine={false}
            axisLine={false}
            height={23}
            interval={0}
          />
          <YAxis yAxisId="l" width={PL} domain={[40.5, 42]} ticks={[40.5, 41, 41.5, 42]} tick={{ fill: '#111', fontSize: 11, fontWeight: 700, fontFamily: "'Liberation Sans', Arial, sans-serif" }} {...yCommon} tickMargin={4} />
          <Line yAxisId="l" data={pairs(TEMP)} dataKey="v" stroke="#ff1a1a" strokeWidth={1.2} dot={false} connectNulls={false} isAnimationActive={false} />
          <ReferenceLine yAxisId="l" x={546} stroke="#666" strokeWidth={2.5} strokeDasharray="10 4 2 4" />
          {frame(40.5, 42, false)}
        </ComposedChart>
      </div>
    </div>
  );
}
